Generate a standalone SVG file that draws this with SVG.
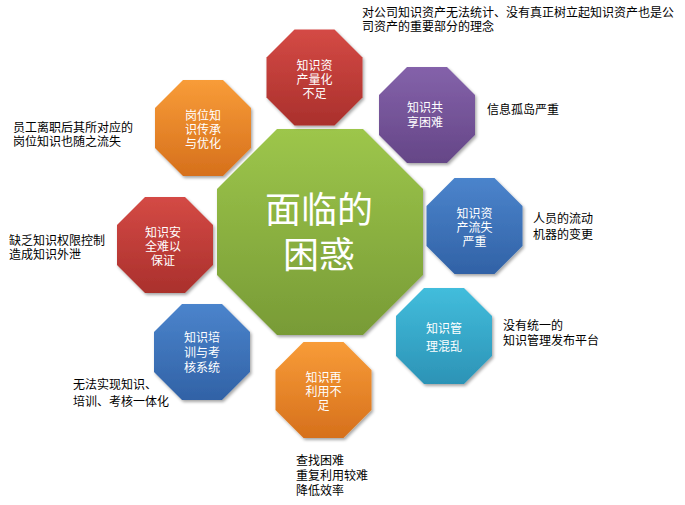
<svg xmlns="http://www.w3.org/2000/svg" width="685" height="505" viewBox="0 0 685 505">
<defs>
<linearGradient id="gGreen" x1="0" y1="0" x2="0" y2="1"><stop offset="0" stop-color="#9dc64b"/><stop offset="1" stop-color="#789b36"/></linearGradient>
<linearGradient id="gRed" x1="0" y1="0" x2="0" y2="1"><stop offset="0" stop-color="#d44a45"/><stop offset="1" stop-color="#aa302c"/></linearGradient>
<linearGradient id="gPurple" x1="0" y1="0" x2="0" y2="1"><stop offset="0" stop-color="#8462aa"/><stop offset="1" stop-color="#654687"/></linearGradient>
<linearGradient id="gBlue" x1="0" y1="0" x2="0" y2="1"><stop offset="0" stop-color="#4b84cc"/><stop offset="1" stop-color="#3162a6"/></linearGradient>
<linearGradient id="gCyan" x1="0" y1="0" x2="0" y2="1"><stop offset="0" stop-color="#42bddc"/><stop offset="1" stop-color="#2c93b6"/></linearGradient>
<linearGradient id="gOrange" x1="0" y1="0" x2="0" y2="1"><stop offset="0" stop-color="#f89c38"/><stop offset="1" stop-color="#d6701c"/></linearGradient>
<filter id="sh" x="-20%" y="-20%" width="140%" height="140%"><feDropShadow dx="1.5" dy="2" stdDeviation="1.8" flood-color="#000" flood-opacity="0.35"/></filter>
<polygon id="oct" points="-20,-48 20,-48 48,-20 48,20 20,48 -20,48 -48,20 -48,-20"/>
</defs>
<style>
.oct{filter:url(#sh);}
.w{font-family:"Liberation Sans","Noto Sans CJK SC",sans-serif;font-size:12px;fill:#fff;text-anchor:middle;}
.c{font-family:"Liberation Sans","Noto Sans CJK SC",sans-serif;font-size:36px;fill:#fff;text-anchor:middle;}
.l{font-family:"Liberation Sans","Noto Sans CJK SC",sans-serif;font-size:12px;fill:#000;}
</style>

<g id="center">
<polygon class="oct" fill="url(#gGreen)" points="277,129 363,129 423,189 423,275 363,335 277,335 217,275 217,189"/>
<text class="c" x="319" y="223">面临的</text>
<text class="c" x="319" y="268">困惑</text>
</g>

<g id="n1" transform="translate(314.5,77.5)">
<use href="#oct" class="oct" fill="url(#gRed)"/>
<text class="w" x="0" y="-8">知识资</text>
<text class="w" x="0" y="6">产量化</text>
<text class="w" x="0" y="20">不足</text>
</g>

<g id="n2" transform="translate(427,115)">
<use href="#oct" class="oct" fill="url(#gPurple)"/>
<text class="w" x="-2" y="-3">知识共</text>
<text class="w" x="-2" y="12">享困难</text>
</g>

<g id="n3" transform="translate(474.5,226)">
<use href="#oct" class="oct" fill="url(#gBlue)"/>
<text class="w" x="0" y="-8">知识资</text>
<text class="w" x="0" y="6">产流失</text>
<text class="w" x="0" y="20">严重</text>
</g>

<g id="n4" transform="translate(444,336)">
<use href="#oct" class="oct" fill="url(#gCyan)"/>
<text class="w" x="0" y="-3">知识管</text>
<text class="w" x="0" y="15">理混乱</text>
</g>

<g id="n5" transform="translate(323.5,390)">
<use href="#oct" class="oct" fill="url(#gOrange)"/>
<text class="w" x="0" y="-8">知识再</text>
<text class="w" x="0" y="6">利用不</text>
<text class="w" x="0" y="20">足</text>
</g>

<g id="n6" transform="translate(202,352)">
<use href="#oct" class="oct" fill="url(#gBlue)"/>
<text class="w" x="0" y="-10">知识培</text>
<text class="w" x="0" y="5">训与考</text>
<text class="w" x="0" y="20">核系统</text>
</g>

<g id="n7" transform="translate(165,245)">
<use href="#oct" class="oct" fill="url(#gRed)"/>
<text class="w" x="-2" y="-8">知识安</text>
<text class="w" x="-2" y="6">全难以</text>
<text class="w" x="-2" y="20">保证</text>
</g>

<g id="n8" transform="translate(203,128)">
<use href="#oct" class="oct" fill="url(#gOrange)"/>
<text class="w" x="0" y="-8">岗位知</text>
<text class="w" x="0" y="6">识传承</text>
<text class="w" x="0" y="20">与优化</text>
</g>

<g id="labels">
<text class="l" x="362" y="17">对公司知识资产无法统计、没有真正树立起知识资产也是公</text>
<text class="l" x="362" y="31">司资产的重要部分的理念</text>
<text class="l" x="487" y="114">信息孤岛严重</text>
<text class="l" x="533" y="223">人员的流动</text>
<text class="l" x="533" y="239">机器的变更</text>
<text class="l" x="503" y="330">没有统一的</text>
<text class="l" x="503" y="345">知识管理发布平台</text>
<text class="l" x="296" y="465">查找困难</text>
<text class="l" x="296" y="480">重复利用较难</text>
<text class="l" x="296" y="495">降低效率</text>
<text class="l" x="73" y="389">无法实现知识、</text>
<text class="l" x="73" y="406">培训、考核一体化</text>
<text class="l" x="9" y="245">缺乏知识权限控制</text>
<text class="l" x="9" y="259">造成知识外泄</text>
<text class="l" x="13" y="132">员工离职后其所对应的</text>
<text class="l" x="13" y="146">岗位知识也随之流失</text>
</g>
</svg>
